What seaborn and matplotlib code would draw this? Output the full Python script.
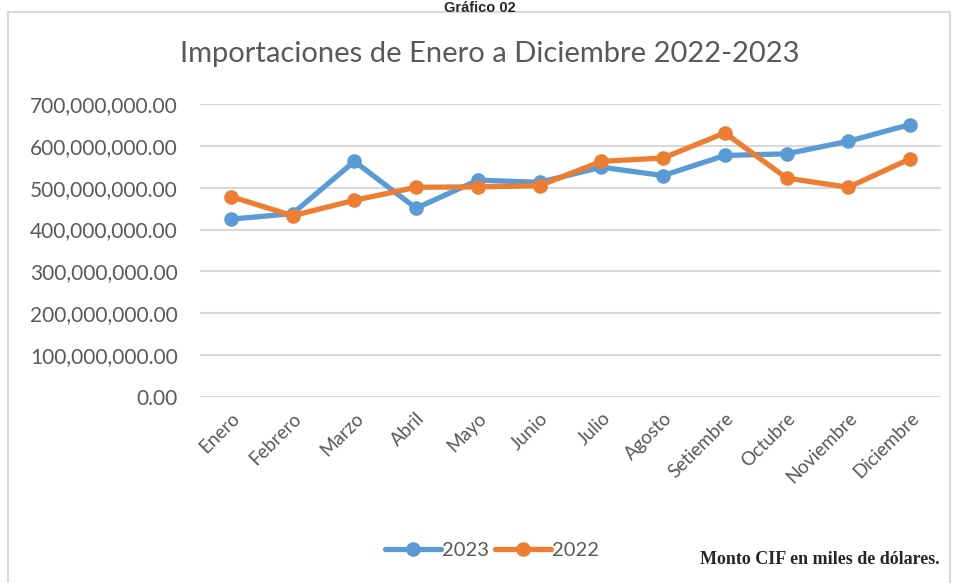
import matplotlib.pyplot as plt
import seaborn as sns
import pandas as pd
from matplotlib.patches import Rectangle
from matplotlib.ticker import FuncFormatter

meses = ["Enero", "Febrero", "Marzo", "Abril", "Mayo", "Junio", "Julio",
         "Agosto", "Setiembre", "Octubre", "Noviembre", "Diciembre"]
v2023 = [425e6, 438e6, 563e6, 451e6, 518e6, 513e6, 549e6,
         529e6, 577e6, 581e6, 611e6, 651e6]
v2022 = [479e6, 433e6, 470e6, 501e6, 502e6, 505e6, 563e6,
         571e6, 631e6, 523e6, 501e6, 569e6]
series = ["2023", "2022"]
colores = ["#5B9BD5", "#ED7D31"]

df = pd.DataFrame({
    "mes": meses * 2,
    "valor": v2023 + v2022,
    "anio": ["2023"] * 12 + ["2022"] * 12,
})

sns.set_style("white")
plt.rcParams["font.family"] = ["Lato", "DejaVu Sans"]

fig = plt.figure(figsize=(9.55, 5.83), dpi=100)
ax = fig.add_axes([200 / 955, 1 - 397 / 583, 741 / 955, 293 / 583])

# chart frame (Excel-like)
fig.patches.append(Rectangle((8 / 955, -0.05), 942 / 955, 1 - 12 / 583 + 0.05,
                             transform=fig.transFigure, fill=False,
                             edgecolor="#D9D9D9", linewidth=1.5))

sns.lineplot(data=df, x="mes", y="valor", hue="anio", hue_order=series,
             palette=colores, marker="o", markersize=10.5, markeredgewidth=0,
             linewidth=3.8, ax=ax, sort=False, clip_on=False)

ax.set_ylim(0, 700e6)
ax.set_xlim(-0.5, 11.5)
ax.set_yticks([i * 100e6 for i in range(8)])
ax.yaxis.set_major_formatter(FuncFormatter(lambda v, p: f"{v:,.2f}"))
ax.grid(axis="y", color="#D9D9D9", linewidth=1.5)
ax.set_axisbelow(True)
for s in ax.spines.values():
    s.set_visible(False)
ax.set_xlabel("")
ax.set_ylabel("")
ax.tick_params(axis="y", labelsize=15, colors="#595959", length=0, pad=16)
ax.tick_params(axis="x", labelsize=13.5, colors="#595959", length=0, pad=9)
plt.setp(ax.get_xticklabels(), rotation=45, ha="right", rotation_mode="anchor")

fig.text(490 / 955, 1 - 54 / 583, "Importaciones de Enero a Diciembre 2022-2023",
         ha="center", va="center", fontsize=21, color="#595959")
fig.text(480 / 955, 1 - 0.5 / 583, "Gráfico 02", ha="center", va="top",
         fontsize=10.5, fontweight="bold", family="Liberation Sans")

handles, labels = ax.get_legend_handles_labels()
ax.legend(handles, labels, loc="center", bbox_to_anchor=(492 / 955, 1 - 550 / 583),
          bbox_transform=fig.transFigure, ncol=2, frameon=False, fontsize=14.5,
          handlelength=2.8, columnspacing=0.3, handletextpad=0.05,
          labelcolor="#595959")

fig.text(940 / 955, 1 - 560 / 583, "Monto CIF en miles de dólares.", ha="right",
         va="center", fontsize=13, fontweight="bold", family="Liberation Serif")

fig.savefig("out.png", dpi=100)
